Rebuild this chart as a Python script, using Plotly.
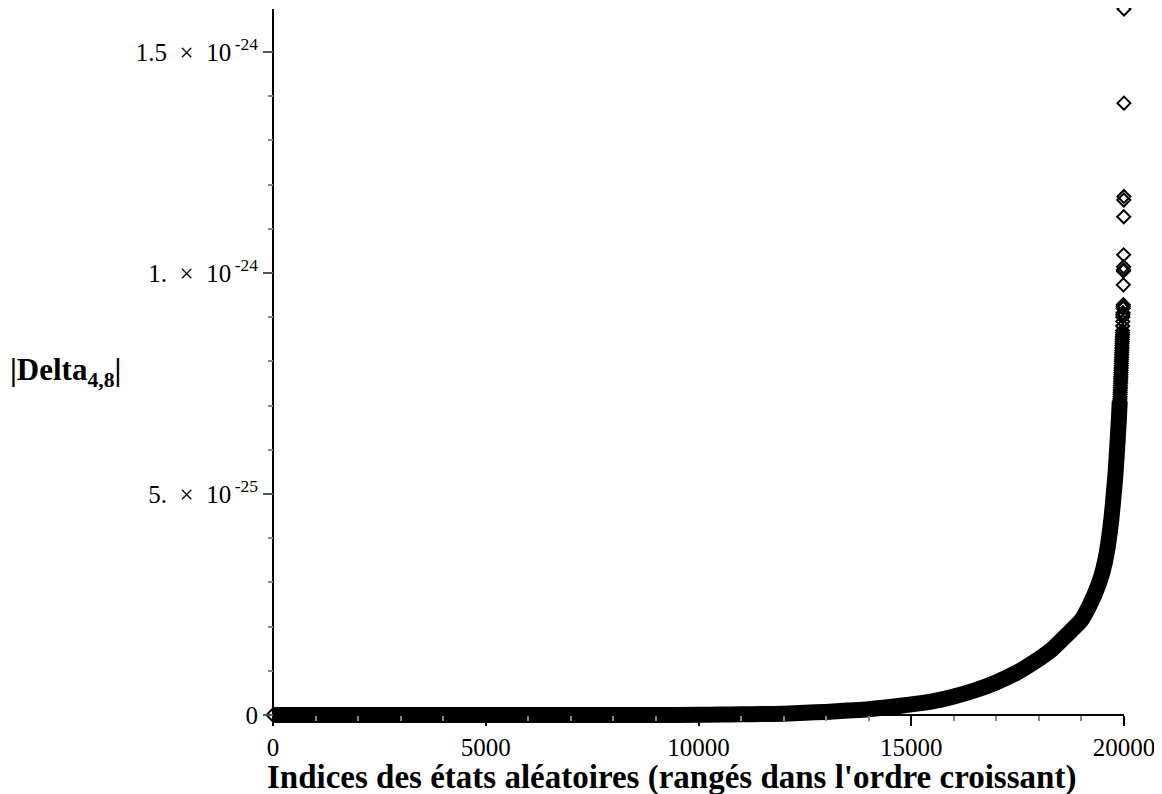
import numpy as np
import plotly.graph_objects as go

SCALE = 1e-24  # values below are in units of 1e-24

# Dense sorted band (index, |Delta_4,8| / 1e-24)
band_idx = [0, 1000, 2000, 3000, 4000, 5000, 6000, 7000, 8000, 9000,
            10000, 10500, 11000, 11500, 12000, 12500, 13000, 13500, 14000,
            14500, 15000, 15500, 16000, 16500, 17000, 17500, 18000, 18300,
            18600, 18800, 19000, 19200, 19400, 19500, 19600, 19700, 19750,
            19800, 19850, 19880, 19900]
band_val = [0.0, 0.0, 0.0, 0.0, 0.0, 0.0, 0.0, 0.0, 0.0, 0.0,
            0.0005, 0.001, 0.0015, 0.002, 0.003, 0.005, 0.007, 0.010, 0.013,
            0.018, 0.024, 0.031, 0.042, 0.056, 0.074, 0.097, 0.127, 0.148,
            0.176, 0.195, 0.215, 0.250, 0.295, 0.325, 0.37, 0.44, 0.49,
            0.545, 0.62, 0.67, 0.71]

# Upper column of individually drawn points
top_idx = [19905, 19907, 19909, 19911, 19913, 19915, 19917, 19919, 19921, 19923,
           19925, 19927, 19929, 19931, 19933, 19935, 19937, 19939, 19941, 19943,
           19945, 19947, 19949, 19951, 19953, 19955, 19957, 19959, 19961, 19963,
           19965, 19967, 19969, 19971, 19973, 19975, 19977, 19979, 19981, 19983,
           19985, 19987, 19989, 19990, 19992, 19994, 19995, 19997, 19999, 20000]
top_val = [0.715, 0.72, 0.725, 0.73, 0.735, 0.74, 0.745, 0.75, 0.755, 0.76,
           0.765, 0.77, 0.775, 0.78, 0.785, 0.79, 0.795, 0.80, 0.805, 0.81,
           0.815, 0.82, 0.825, 0.83, 0.835, 0.84, 0.845, 0.85, 0.855, 0.86,
           0.865, 0.87, 0.88, 0.89, 0.90, 0.905, 0.91, 0.92, 0.924, 0.928,
           0.973, 1.004, 1.007, 1.014, 1.041, 1.127, 1.165, 1.173, 1.384, 1.597]

y_max = 1.597e-24
x_max = 20000
y_tickvals = [0, 5e-25, 1e-24, 1.5e-24]
y_ticktext = ["0",
              "5.\u2002×\u200210<sup>\u2009-25</sup>",
              "1.\u2002×\u200210<sup>\u2009-24</sup>",
              "1.5\u2002×\u200210<sup>\u2009-24</sup>"]
x_tickvals = [0, 5000, 10000, 15000, 20000]
x_ticktext = ["0", "5000", "10000", "15000", "20000"]

FONT = "Liberation Serif, Times New Roman, serif"

# geometry (figure pixels)
W, H = 1154, 786
PAD = 12                      # extra room so the thick band is not clipped
x0_px, x1_px = 265, 1116      # x = 0 and x = 20000
y0_px, y1_px = 707, 1         # y = 0 and y = y_max
plot_l, plot_r = x0_px - PAD, x1_px + PAD
plot_t, plot_b = y1_px, y0_px + PAD
px_per_x = (x1_px - x0_px) / x_max
px_per_y = (y0_px - y1_px) / y_max
x_range = [-PAD / px_per_x, x_max + PAD / px_per_x]
y_range = [-PAD / px_per_y, y_max]
pw, ph = plot_r - plot_l, plot_b - plot_t

mk = dict(symbol="diamond-open", size=10, color="black", line=dict(width=2, color="black"))

fig = go.Figure()
fig.add_trace(go.Scatter(
    x=band_idx, y=np.array(band_val) * SCALE, mode="lines+markers",
    line=dict(color="black", width=16, shape="spline", smoothing=0.6), marker=mk,
    cliponaxis=False, showlegend=False, hoverinfo="skip"))
fig.add_trace(go.Scatter(
    x=top_idx, y=np.array(top_val) * SCALE, mode="markers", marker=mk,
    cliponaxis=False, showlegend=False, hoverinfo="skip"))

fig.update_layout(
    width=W, height=H,
    margin=dict(l=plot_l, r=W - plot_r, t=plot_t, b=H - plot_b, pad=0),
    paper_bgcolor="white", plot_bgcolor="white",
    font=dict(family=FONT, size=25, color="black"),
    xaxis=dict(range=x_range, tickvals=x_tickvals, ticktext=x_ticktext,
               anchor="free", position=PAD / ph,
               showgrid=False, zeroline=False, showline=False,
               ticks="outside", ticklen=10, tickwidth=1.5, tickcolor="black",
               tickfont=dict(family=FONT, size=25),
               minor=dict(tickvals=[v for v in range(1000, 20000, 1000) if v % 5000],
                          ticks="outside", ticklen=5, tickcolor="#888", tickwidth=1.5)),
    yaxis=dict(range=y_range, tickvals=y_tickvals, ticktext=y_ticktext,
               anchor="free", position=PAD / pw,
               showgrid=False, zeroline=False, showline=False,
               ticks="outside", ticklen=10, tickwidth=1.5, tickcolor="#555",
               tickfont=dict(family=FONT, size=25),
               minor=dict(tickvals=[k * 1e-25 for k in range(1, 16) if k % 5],
                          ticks="outside", ticklen=5, tickcolor="#888", tickwidth=1.5)),
    shapes=[dict(type="line", xref="x", yref="y", x0=0, x1=x_max, y0=0, y1=0,
                 line=dict(color="black", width=2), layer="below"),
            dict(type="line", xref="x", yref="y", x0=0, x1=0, y0=0, y1=y_max,
                 line=dict(color="black", width=2), layer="below")],
    annotations=[
        dict(text="<b>|Delta<sub>4,8</sub>|</b>", xref="paper", yref="paper",
             x=(0 - plot_l) / pw, y=(plot_b - 364) / ph, xanchor="left", yanchor="middle",
             showarrow=False, font=dict(family=FONT, size=31)),
        dict(text="<b>Indices des états aléatoires (rangés dans l'ordre croissant)</b>",
             xref="paper", yref="paper",
             x=(663 - plot_l) / pw, y=(plot_b - 769) / ph, xanchor="center", yanchor="middle",
             showarrow=False, font=dict(family=FONT, size=33)),
    ],
)

fig.write_html("out.html")
